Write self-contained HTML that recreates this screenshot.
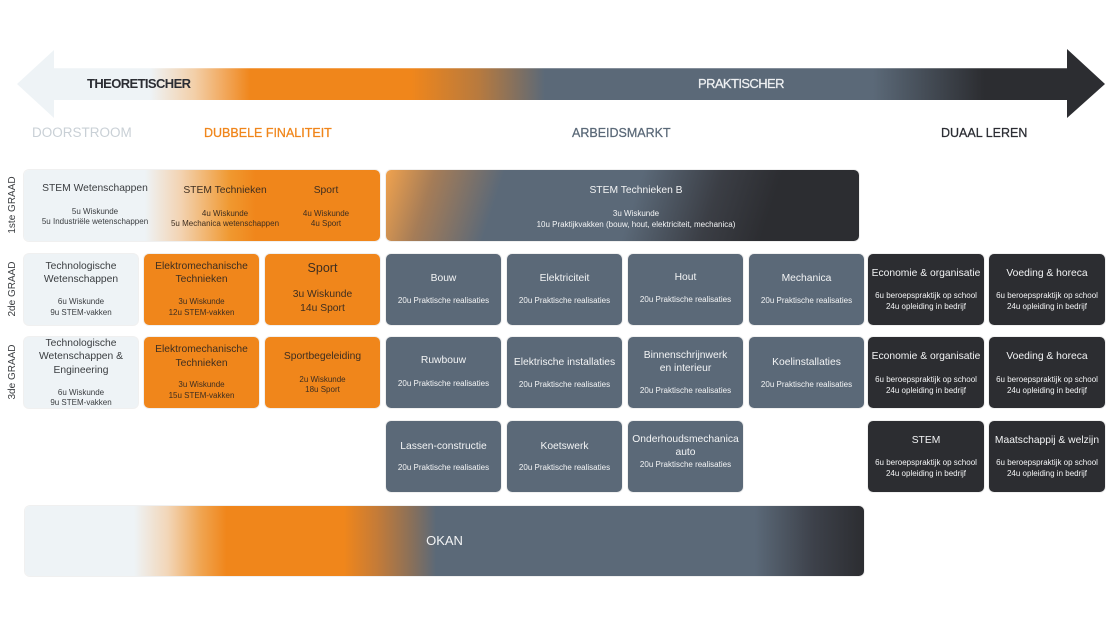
<!DOCTYPE html>
<html><head><meta charset="utf-8">
<style>
*{margin:0;padding:0;box-sizing:border-box}
html,body{width:1112px;height:625px;background:#fff;overflow:hidden}
body{position:relative;font-family:"Liberation Sans",Arial,sans-serif}
.b{position:absolute;border-radius:5px;box-shadow:0 0 0 1px rgba(0,0,0,0.06)}
.L{background:#eef3f6}
.O{background:#f0861b}
.S{background:#5b6978}
.D{background:#2c2d31}
.t,.s{position:absolute;text-align:center;white-space:nowrap}
.t{font-size:10.3px;line-height:12px;height:12px}
.s{font-size:8px;line-height:10px;height:10px}
.k1{color:#3a3d40}
.k2{color:#3e2e20}
.w{color:#f3f4f5}
.h{position:absolute;font-size:12.5px;line-height:16px;white-space:nowrap;-webkit-text-stroke:0.25px currentColor}
.side{position:absolute;font-size:10px;line-height:12px;color:#3a3d40;white-space:nowrap;transform:translate(-50%,-50%) rotate(-90deg)}
</style></head><body>

<svg width="1112" height="140" style="position:absolute;left:0;top:0">
<defs>
<linearGradient id="ag" gradientUnits="userSpaceOnUse" x1="0" y1="0" x2="1112" y2="0">
<stop offset="0" stop-color="#eef3f6"/>
<stop offset="0.135" stop-color="#eef3f6"/>
<stop offset="0.175" stop-color="#f3cfa8"/>
<stop offset="0.225" stop-color="#f0861b"/>
<stop offset="0.37" stop-color="#f0861b"/>
<stop offset="0.43" stop-color="#b87a3e"/>
<stop offset="0.49" stop-color="#5b6978"/>
<stop offset="0.785" stop-color="#5b6978"/>
<stop offset="0.885" stop-color="#2c2d31"/>
<stop offset="1" stop-color="#2c2d31"/>
</linearGradient>
</defs>
<polygon points="17,84 54,50 54,68 1067,68 1067,49 1105,84 1067,118 1067,100 54,100 54,118" fill="url(#ag)"/>
<line x1="54" y1="68.5" x2="1067" y2="68.5" stroke="#ffffff" stroke-opacity="0.25"/>
</svg>

<div class="h" style="left:87px;top:76px;font-size:13px;font-weight:bold;letter-spacing:-0.6px;color:#2b2d33;-webkit-text-stroke:0">THEORETISCHER</div>
<div class="h" style="left:698px;top:76px;font-size:13px;letter-spacing:-0.6px;color:#eef0f2">PRAKTISCHER</div>

<div class="h" style="left:32px;top:125px;font-size:13.5px;color:#c9d0d6;-webkit-text-stroke:0">DOORSTROOM</div>
<div class="h" style="left:204px;top:125px;color:#f0861b">DUBBELE FINALITEIT</div>
<div class="h" style="left:572px;top:125px;color:#5b6978">ARBEIDSMARKT</div>
<div class="h" style="left:941px;top:125px;color:#2b2d33">DUAAL LEREN</div>

<div class="side" style="left:13px;top:205px">1ste GRAAD</div>
<div class="side" style="left:13px;top:289px">2de GRAAD</div>
<div class="side" style="left:13px;top:372px">3de GRAAD</div>

<!-- Row 1 -->
<div class="b" style="left:24px;top:170px;width:356px;height:71px;background:linear-gradient(90deg,#eef3f6 0%,#eef3f6 34%,#f3d3b2 44%,#f0982f 58%,#f0861b 65%,#f0861b 100%)"></div>
<div class="b" style="left:386px;top:170px;width:473px;height:71px;background:linear-gradient(108deg,#f0a24e 0%,#a57c57 10%,#5b6978 24%,#5b6978 52%,#3b3e45 68%,#2c2d31 80%,#2c2d31 100%)"></div>

<div class="t k1" style="left:25px;width:140px;top:183px">STEM Wetenschappen</div>
<div class="s k1" style="left:25px;width:140px;top:207px">5u Wiskunde</div>
<div class="s k1" style="left:25px;width:140px;top:217px">5u Industriële wetenschappen</div>

<div class="t k2" style="left:155px;width:140px;top:185px">STEM Technieken</div>
<div class="s k2" style="left:155px;width:140px;top:209px">4u Wiskunde</div>
<div class="s k2" style="left:155px;width:140px;top:219px">5u Mechanica wetenschappen</div>

<div class="t k2" style="left:276px;width:100px;top:185px">Sport</div>
<div class="s k2" style="left:276px;width:100px;top:209px">4u Wiskunde</div>
<div class="s k2" style="left:276px;width:100px;top:219px">4u Sport</div>

<div class="t w" style="left:386px;width:500px;top:185px">STEM Technieken B</div>
<div class="s w" style="left:386px;width:500px;top:209px">3u Wiskunde</div>
<div class="s w" style="left:386px;width:500px;top:220px">10u Praktijkvakken (bouw, hout, elektriciteit, mechanica)</div>

<!-- Row 2 -->
<div class="b L" style="left:24px;top:254px;width:114px;height:71px"></div>
<div class="b O" style="left:144px;top:254px;width:115px;height:71px"></div>
<div class="b O" style="left:265px;top:254px;width:115px;height:71px"></div>
<div class="b S" style="left:386px;top:254px;width:115px;height:71px"></div>
<div class="b S" style="left:507px;top:254px;width:115px;height:71px"></div>
<div class="b S" style="left:628px;top:254px;width:115px;height:71px"></div>
<div class="b S" style="left:749px;top:254px;width:115px;height:71px"></div>
<div class="b D" style="left:868px;top:254px;width:116px;height:71px"></div>
<div class="b D" style="left:989px;top:254px;width:116px;height:71px"></div>

<div class="t k1" style="left:24px;width:114px;top:261px">Technologische</div>
<div class="t k1" style="left:24px;width:114px;top:274px">Wetenschappen</div>
<div class="s k1" style="left:24px;width:114px;top:297px">6u Wiskunde</div>
<div class="s k1" style="left:24px;width:114px;top:308px">9u STEM-vakken</div>

<div class="t k2" style="left:144px;width:115px;top:261px">Elektromechanische</div>
<div class="t k2" style="left:144px;width:115px;top:274px">Technieken</div>
<div class="s k2" style="left:144px;width:115px;top:297px">3u Wiskunde</div>
<div class="s k2" style="left:144px;width:115px;top:308px">12u STEM-vakken</div>

<div class="t k2" style="left:265px;width:115px;top:261px;font-size:12.5px;line-height:14px;height:14px">Sport</div>
<div class="t k2" style="left:265px;width:115px;top:289px">3u Wiskunde</div>
<div class="t k2" style="left:265px;width:115px;top:303px">14u Sport</div>

<div class="t w" style="left:386px;width:115px;top:273px">Bouw</div>
<div class="s w" style="left:386px;width:115px;top:296px">20u Praktische realisaties</div>
<div class="t w" style="left:507px;width:115px;top:273px">Elektriciteit</div>
<div class="s w" style="left:507px;width:115px;top:296px">20u Praktische realisaties</div>
<div class="t w" style="left:628px;width:115px;top:272px">Hout</div>
<div class="s w" style="left:628px;width:115px;top:295px">20u Praktische realisaties</div>
<div class="t w" style="left:749px;width:115px;top:273px">Mechanica</div>
<div class="s w" style="left:749px;width:115px;top:296px">20u Praktische realisaties</div>

<div class="t w" style="left:868px;width:116px;top:268px">Economie &amp; organisatie</div>
<div class="s w" style="left:868px;width:116px;top:291px">6u beroepspraktijk op school</div>
<div class="s w" style="left:868px;width:116px;top:302px">24u opleiding in bedrijf</div>
<div class="t w" style="left:989px;width:116px;top:268px">Voeding &amp; horeca</div>
<div class="s w" style="left:989px;width:116px;top:291px">6u beroepspraktijk op school</div>
<div class="s w" style="left:989px;width:116px;top:302px">24u opleiding in bedrijf</div>

<!-- Row 3 -->
<div class="b L" style="left:24px;top:337px;width:114px;height:71px"></div>
<div class="b O" style="left:144px;top:337px;width:115px;height:71px"></div>
<div class="b O" style="left:265px;top:337px;width:115px;height:71px"></div>
<div class="b S" style="left:386px;top:337px;width:115px;height:71px"></div>
<div class="b S" style="left:507px;top:337px;width:115px;height:71px"></div>
<div class="b S" style="left:628px;top:337px;width:115px;height:71px"></div>
<div class="b S" style="left:749px;top:337px;width:115px;height:71px"></div>
<div class="b D" style="left:868px;top:337px;width:116px;height:71px"></div>
<div class="b D" style="left:989px;top:337px;width:116px;height:71px"></div>

<div class="t k1" style="left:24px;width:114px;top:338px">Technologische</div>
<div class="t k1" style="left:24px;width:114px;top:351px">Wetenschappen &amp;</div>
<div class="t k1" style="left:24px;width:114px;top:365px">Engineering</div>
<div class="s k1" style="left:24px;width:114px;top:388px">6u Wiskunde</div>
<div class="s k1" style="left:24px;width:114px;top:398px">9u STEM-vakken</div>

<div class="t k2" style="left:144px;width:115px;top:344px">Elektromechanische</div>
<div class="t k2" style="left:144px;width:115px;top:358px">Technieken</div>
<div class="s k2" style="left:144px;width:115px;top:380px">3u Wiskunde</div>
<div class="s k2" style="left:144px;width:115px;top:391px">15u STEM-vakken</div>

<div class="t k2" style="left:265px;width:115px;top:351px">Sportbegeleiding</div>
<div class="s k2" style="left:265px;width:115px;top:375px">2u Wiskunde</div>
<div class="s k2" style="left:265px;width:115px;top:385px">18u Sport</div>

<div class="t w" style="left:386px;width:115px;top:355px">Ruwbouw</div>
<div class="s w" style="left:386px;width:115px;top:379px">20u Praktische realisaties</div>
<div class="t w" style="left:507px;width:115px;top:357px">Elektrische installaties</div>
<div class="s w" style="left:507px;width:115px;top:380px">20u Praktische realisaties</div>
<div class="t w" style="left:628px;width:115px;top:350px">Binnenschrijnwerk</div>
<div class="t w" style="left:628px;width:115px;top:363px">en interieur</div>
<div class="s w" style="left:628px;width:115px;top:386px">20u Praktische realisaties</div>
<div class="t w" style="left:749px;width:115px;top:357px">Koelinstallaties</div>
<div class="s w" style="left:749px;width:115px;top:380px">20u Praktische realisaties</div>

<div class="t w" style="left:868px;width:116px;top:351px">Economie &amp; organisatie</div>
<div class="s w" style="left:868px;width:116px;top:375px">6u beroepspraktijk op school</div>
<div class="s w" style="left:868px;width:116px;top:386px">24u opleiding in bedrijf</div>
<div class="t w" style="left:989px;width:116px;top:351px">Voeding &amp; horeca</div>
<div class="s w" style="left:989px;width:116px;top:375px">6u beroepspraktijk op school</div>
<div class="s w" style="left:989px;width:116px;top:386px">24u opleiding in bedrijf</div>

<!-- Row 4 -->
<div class="b S" style="left:386px;top:421px;width:115px;height:71px"></div>
<div class="b S" style="left:507px;top:421px;width:115px;height:71px"></div>
<div class="b S" style="left:628px;top:421px;width:115px;height:71px"></div>
<div class="b D" style="left:868px;top:421px;width:116px;height:71px"></div>
<div class="b D" style="left:989px;top:421px;width:116px;height:71px"></div>

<div class="t w" style="left:386px;width:115px;top:441px">Lassen-constructie</div>
<div class="s w" style="left:386px;width:115px;top:463px">20u Praktische realisaties</div>
<div class="t w" style="left:507px;width:115px;top:441px">Koetswerk</div>
<div class="s w" style="left:507px;width:115px;top:463px">20u Praktische realisaties</div>
<div class="t w" style="left:628px;width:115px;top:434px">Onderhoudsmechanica</div>
<div class="t w" style="left:628px;width:115px;top:447px">auto</div>
<div class="s w" style="left:628px;width:115px;top:460px">20u Praktische realisaties</div>

<div class="t w" style="left:868px;width:116px;top:435px">STEM</div>
<div class="s w" style="left:868px;width:116px;top:458px">6u beroepspraktijk op school</div>
<div class="s w" style="left:868px;width:116px;top:469px">24u opleiding in bedrijf</div>
<div class="t w" style="left:989px;width:116px;top:435px">Maatschappij &amp; welzijn</div>
<div class="s w" style="left:989px;width:116px;top:458px">6u beroepspraktijk op school</div>
<div class="s w" style="left:989px;width:116px;top:469px">24u opleiding in bedrijf</div>

<!-- OKAN -->
<div class="b" style="left:25px;top:506px;width:839px;height:70px;background:linear-gradient(90deg,#eef3f6 0%,#eef3f6 13%,#f2d6b8 17%,#f0a450 21%,#f0861b 24%,#f0861b 38%,#c47b38 42%,#8a7059 46%,#5b6978 49%,#5b6978 87%,#3d414a 94%,#2c2d31 100%)"></div>
<div class="t w" style="left:25px;width:839px;top:533px;font-size:13px;line-height:16px;height:16px">OKAN</div>

</body></html>
